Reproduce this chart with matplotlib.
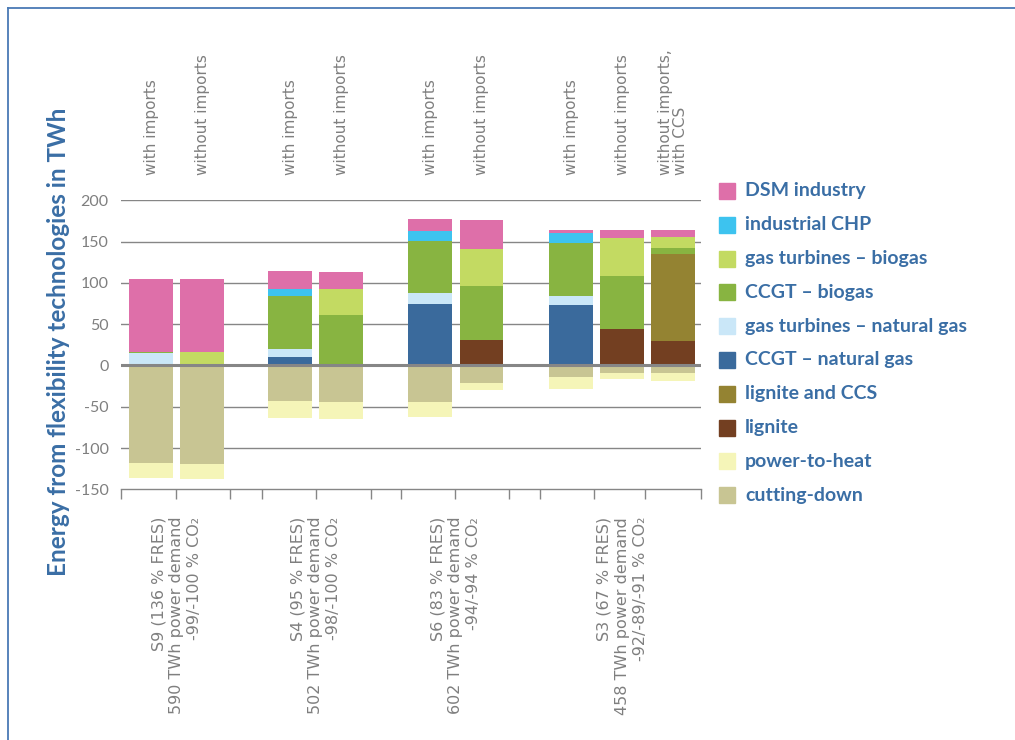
import matplotlib.pyplot as plt
from matplotlib.patches import Rectangle
from matplotlib.lines import Line2D

plt.rcParams["axes.unicode_minus"] = False

# bar labels (top) and scenario labels (bottom)
variants = ["with imports", "without imports",
            "with imports", "without imports",
            "with imports", "without imports",
            "with imports", "without imports", "without imports,\nwith CCS"]
scenarios = ["S9 (136 % FRES)\n590 TWh power demand\n-99/-100 % CO\u2082",
             "S4 (95 % FRES)\n502 TWh power demand\n-98/-100 % CO\u2082",
             "S6 (83 % FRES)\n602 TWh power demand\n-94/-94 % CO\u2082",
             "S3 (67 % FRES)\n458 TWh power demand\n-92/-89/-91 % CO\u2082"]
scenario_bars = [[0, 1], [2, 3], [4, 5], [6, 7, 8]]

# values in TWh (9 bars)
dsm_industry = [89.5, 88.4, 21.8, 20.6, 14.6, 35.3, 4.0, 9.7, 8.5]
industrial_chp = [0, 0, 9.3, 0, 12.2, 0, 11.8, 0, 0]
gt_biogas = [0, 16.6, 0, 31.5, 0, 45.1, 0, 46.4, 13.4]
ccgt_biogas = [0.7, 0, 63.4, 61.4, 63.4, 64.7, 64.7, 63.4, 7.4]
gt_natgas = [15.0, 0, 9.7, 0, 13.4, 0, 10.9, 0, 0]
ccgt_natgas = [0, 0, 10.5, 0, 74.0, 0, 72.8, 0, 0]
lignite_ccs = [0, 0, 0, 0, 0, 0, 0, 0, 104.8]
lignite = [0, 0, 0, 0, 0, 31.3, 0, 44.7, 30.1]
power_to_heat = [-19.0, -19.0, -20.6, -20.6, -17.8, -8.1, -14.7, -7.4, -9.8]
cutting_down = [-117.9, -119.1, -42.8, -44.0, -44.8, -21.8, -13.8, -8.9, -8.9]

# stacking order from zero upwards
positive = [
    ("lignite", lignite, "#733f21"),
    ("lignite and CCS", lignite_ccs, "#948332"),
    ("CCGT \u2013 natural gas", ccgt_natgas, "#3a6a9c"),
    ("gas turbines \u2013 natural gas", gt_natgas, "#cae7f8"),
    ("CCGT \u2013 biogas", ccgt_biogas, "#88b441"),
    ("gas turbines \u2013 biogas", gt_biogas, "#c3da62"),
    ("industrial CHP", industrial_chp, "#3dc3ef"),
    ("DSM industry", dsm_industry, "#de6fa9"),
]
# stacking order from zero downwards
negative = [
    ("cutting-down", cutting_down, "#c8c593"),
    ("power-to-heat", power_to_heat, "#f5f5b8"),
]

# layout (in slot units)
bar_x = [0.59, 1.59, 3.31, 4.31, 6.06, 7.06, 8.82, 9.82, 10.82]
bar_w = 0.86
x_ticks = [0, 1.08, 2.14, 2.75, 3.81, 4.89, 5.48, 6.54, 7.61, 8.20, 9.27, 10.27, 11.37]

grey = "#868686"
blue = "#3a6ea5"
label_grey = "#7f7f7f"

fig = plt.figure(figsize=(10.15, 7.4), dpi=100)
ax = fig.add_axes([121.3 / 1015, 1 - 489.3 / 740, 580 / 1015, 289 / 740])

bottom = [0.0] * len(bar_x)
for name, vals, col in positive:
    ax.bar(bar_x, vals, bar_w, bottom=bottom, color=col, zorder=3)
    bottom = [b + v for b, v in zip(bottom, vals)]

bottom = [0.0] * len(bar_x)
for name, vals, col in negative:
    ax.bar(bar_x, vals, bar_w, bottom=bottom, color=col, zorder=3)
    bottom = [b + v for b, v in zip(bottom, vals)]

ax.set_xlim(0, 11.37)
ax.set_ylim(-150, 200)
ax.set_yticks(range(-150, 201, 50))
for v in range(-100, 201, 50):
    if v != 0:
        ax.axhline(v, color=grey, lw=1.0, zorder=1)
ax.axhline(0, color=grey, lw=2.2, zorder=4)

for s in ["top", "right", "left"]:
    ax.spines[s].set_visible(False)
ax.spines["bottom"].set_color(grey)
ax.spines["bottom"].set_linewidth(1.0)
ax.set_xticks(x_ticks)
ax.set_xticklabels([])
ax.tick_params(axis="x", length=7, width=1.0, color=grey, direction="out")
ax.tick_params(axis="y", length=0, pad=9, labelsize=11.5, labelcolor=label_grey)
for t in ax.get_yticklabels():
    t.set_fontfamily("Lato")

# labels above the bars
for x, txt in zip(bar_x, variants):
    ax.text(x, 1.087, txt, transform=ax.get_xaxis_transform(), rotation=90,
            ha="center", va="bottom", multialignment="left", linespacing=1.0,
            fontsize=11, color=label_grey, family="DejaVu Sans")

# scenario labels under the axis
for txt, idx in zip(scenarios, scenario_bars):
    xc = (bar_x[idx[0]] + bar_x[idx[-1]]) / 2
    ax.text(xc, -0.095, txt, transform=ax.get_xaxis_transform(), rotation=90,
            ha="center", va="top", multialignment="right", linespacing=1.25,
            fontsize=11.5, color=label_grey, family="DejaVu Sans")

fig.text(59 / 1015, 1 - 342 / 740, "Energy from flexibility technologies in TWh",
         rotation=90, ha="center", va="center", fontsize=17.5,
         fontweight="bold", color=blue, family="Lato")

# legend, top to bottom
legend_items = positive[::-1] + negative[::-1]
for i, (name, vals, col) in enumerate(legend_items):
    yc = 191 + i * 33.8
    fig.patches.append(Rectangle((719 / 1015, 1 - (yc + 8) / 740), 16 / 1015, 16 / 740,
                                 transform=fig.transFigure, color=col))
    fig.text(745 / 1015, 1 - yc / 740, name, ha="left", va="center",
             fontsize=14, fontweight="bold", color=blue, family="Lato")

# frame lines of the original panel
fig.add_artist(Line2D([8 / 1015, 1], [1 - 8 / 740, 1 - 8 / 740], color="#4a7ab5", lw=1.3))
fig.add_artist(Line2D([8 / 1015, 8 / 1015], [0, 1 - 8 / 740], color="#4a7ab5", lw=1.3))

fig.savefig("out.png", dpi=100)
